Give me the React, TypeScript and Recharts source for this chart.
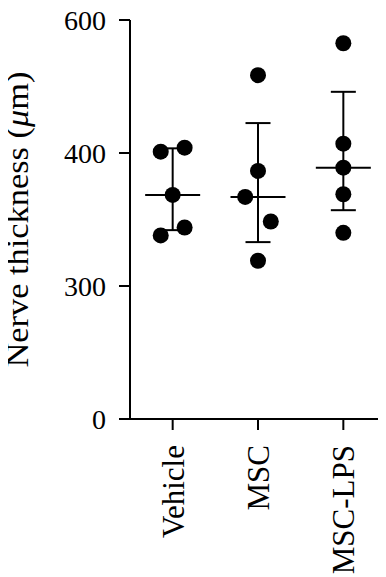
import React from "react";
import { ComposedChart, Scatter, XAxis, YAxis, ErrorBar } from "recharts";

const categories = ["Vehicle", "MSC", "MSC-LPS"];
const vehicleValues = [402, 408, 368.5, 338, 344];
const mscValues = [517, 386.5, 367, 348.5, 319];
const mscLpsValues = [565, 414, 389, 369, 340];
const vehicleJitter = [-0.14, 0.14, 0, -0.14, 0.14];
const mscJitter = [0, 0, -0.15, 0.15, 0];
const mscLpsJitter = [0, 0, 0, 0, 0];
const means = [368.5, 367, 389];
const upperBounds = [407, 445, 492];
const lowerBounds = [342, 333, 357];
const yTickValues = [0, 300, 400, 600];

const FONT = "'Liberation Serif', 'Times New Roman', serif";

// piecewise axis: 0-300, 300-400, 400-600 each take one equal segment
function toAxis(v: number): number {
  if (v <= 300) return v / 300;
  if (v <= 400) return 1 + (v - 300) / 100;
  return 2 + (v - 400) / 200;
}

const groups = [
  { values: vehicleValues, jitter: vehicleJitter },
  { values: mscValues, jitter: mscJitter },
  { values: mscLpsValues, jitter: mscLpsJitter },
];

const points = groups.flatMap((g, i) =>
  g.values.map((v, j) => ({ x: i + g.jitter[j], y: toAxis(v) }))
);

const summary = categories.map((_, i) => {
  const m = toAxis(means[i]);
  return {
    x: i,
    y: m,
    err: [m - toAxis(lowerBounds[i]), toAxis(upperBounds[i]) - m],
  };
});

const MeanLine = (props: any) => {
  const { cx, cy } = props;
  return (
    <line x1={cx - 27.5} x2={cx + 27.5} y1={cy} y2={cy} stroke="#000" strokeWidth={2} />
  );
};

const Dot = (props: any) => {
  const { cx, cy } = props;
  return <circle cx={cx} cy={cy} r={8} fill="#000" />;
};

const XTick = (props: any) => {
  const { x, y, payload } = props;
  return (
    <text
      x={x}
      y={y}
      transform={`rotate(-90, ${x}, ${y})`}
      textAnchor="end"
      dy="0.35em"
      fontFamily={FONT}
      fontSize={31}
      fill="#000"
    >
      {categories[payload.value]}
    </text>
  );
};

const YTick = (props: any) => {
  const { x, y, payload } = props;
  return (
    <text x={x} y={y} textAnchor="end" dy="0.35em" fontFamily={FONT} fontSize={28} fill="#000">
      {yTickValues[payload.value]}
    </text>
  );
};

const YLabel = (props: any) => {
  const vb = props.viewBox || {};
  const cy = (vb.y || 0) + (vb.height || 0) / 2;
  const x = 28;
  return (
    <text
      x={x}
      y={cy}
      transform={`rotate(-90, ${x}, ${cy})`}
      textAnchor="middle"
      fontFamily={FONT}
      fontSize={31}
      fill="#000"
      textLength={296}
      lengthAdjust="spacingAndGlyphs"
    >
      Nerve thickness (<tspan fontStyle="italic">μ</tspan>m)
    </text>
  );
};

export default function App() {
  return (
    <div style={{ marginLeft: -8, marginTop: -8 }}>
      <ComposedChart
        width={386}
        height={577}
        margin={{ top: 20, right: 0, bottom: 8, left: 0 }}
      >
        <XAxis
          type="number"
          dataKey="x"
          domain={[-0.5, 2.5]}
          ticks={[0, 1, 2]}
          allowDataOverflow
          tick={<XTick />}
          tickSize={11}
          tickMargin={15}
          height={150}
          stroke="#000"
          axisLine={{ stroke: "#000", strokeWidth: 2 }}
          tickLine={{ stroke: "#000", strokeWidth: 2 }}
        />
        <YAxis
          type="number"
          dataKey="y"
          domain={[0, 3]}
          ticks={[0, 1, 2, 3]}
          allowDataOverflow
          width={130}
          tick={<YTick />}
          tickSize={11}
          tickMargin={13}
          stroke="#000"
          axisLine={{ stroke: "#000", strokeWidth: 2 }}
          tickLine={{ stroke: "#000", strokeWidth: 2 }}
          label={{ content: <YLabel /> }}
        />
        <Scatter data={summary} shape={<MeanLine />} isAnimationActive={false}>
          <ErrorBar dataKey="err" direction="y" width={12.5} stroke="#000" strokeWidth={2} />
        </Scatter>
        <Scatter data={points} shape={<Dot />} isAnimationActive={false} />
      </ComposedChart>
    </div>
  );
}
